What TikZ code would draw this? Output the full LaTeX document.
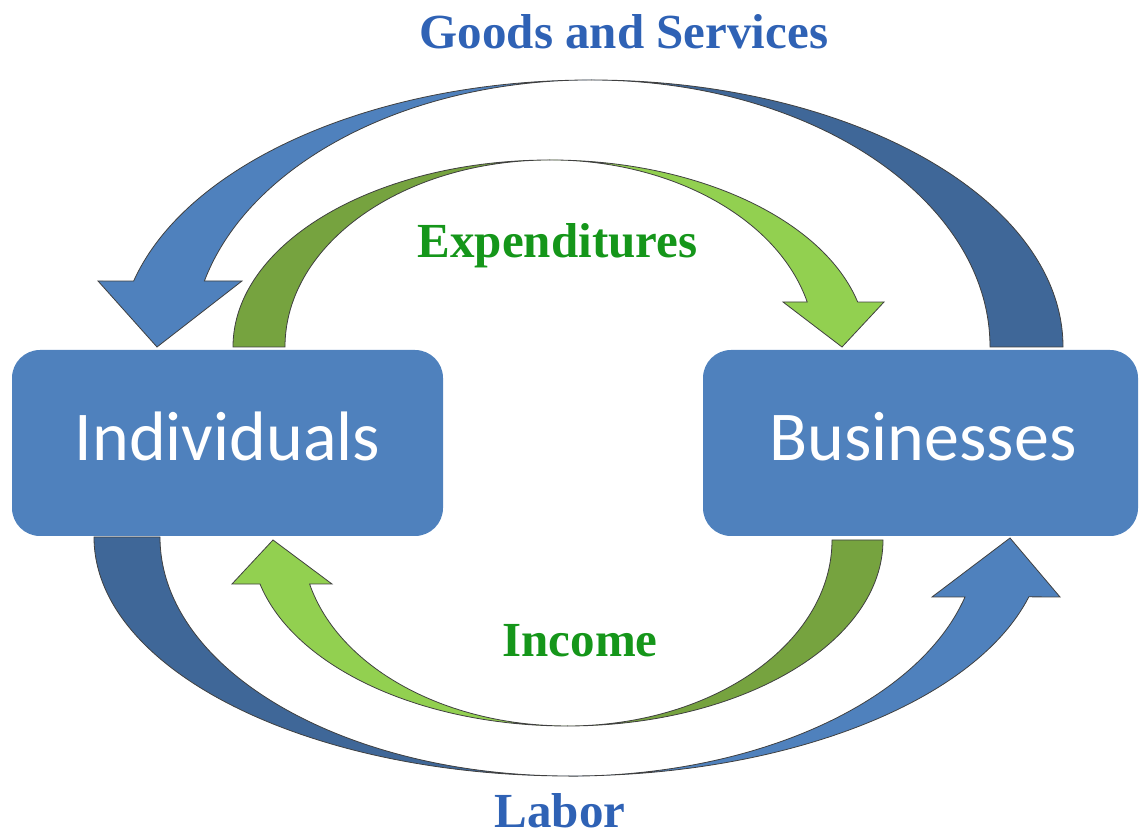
\documentclass[tikz,border=0pt]{standalone}
\usepackage{fontspec}
\setmainfont{Liberation Serif}
\newfontfamily\boxfont{Carlito}
\definecolor{boxblue}{HTML}{4F81BD}
\definecolor{darkblue}{HTML}{3F6798}
\definecolor{lightgreen}{HTML}{92D050}
\definecolor{darkgreen}{HTML}{76A33F}
\definecolor{labelblue}{HTML}{2F62B5}
\definecolor{labelgreen}{HTML}{15961A}
\begin{document}
\begin{tikzpicture}[x=1pt,y=1pt,
  ribbon/.style={draw=black!75, line width=0.8pt, line join=miter},
  flowbox/.style={fill=boxblue, rounded corners=28pt, inner sep=0pt, minimum height=186pt},
  boxtext/.style={text=white, anchor=base, inner sep=0pt, font=\boxfont\fontsize{70}{84}\selectfont},
  flowlabel/.style={anchor=base, inner sep=0pt, font=\bfseries\fontsize{49}{59}\selectfont}]
\useasboundingbox (0,0) rectangle (1140,840);

% boxes
\node[flowbox, minimum width=431pt] (ind) at (227.5,397) {};
\node[flowbox, minimum width=435pt] (bus) at (920.5,397) {};
\node[boxtext] (indt) at (227.5,379) {Individuals};
\node[boxtext] (bust) at (923,379) {Businesses};

% top blue ribbon (goods and services)
\draw[ribbon, fill=darkblue] (591,760) arc[start angle=90,end angle=0,x radius=472,y radius=267]
  -- (990,493) arc[start angle=0,end angle=90,x radius=399,y radius=267] -- cycle;
\draw[ribbon, fill=boxblue] (591,760) arc[start angle=90,end angle=165.7,x radius=472,y radius=267]
  -- (98,559) -- (157,493) -- (242,559) -- (204.4,559)
  arc[start angle=165.7,end angle=90,x radius=399,y radius=267] -- cycle;

% top green ribbon (expenditures)
\draw[ribbon, fill=darkgreen] (550,680) arc[start angle=90,end angle=180,x radius=317,y radius=187]
  -- (285,493) arc[start angle=180,end angle=90,x radius=265,y radius=187] -- cycle;
\draw[ribbon, fill=lightgreen] (550,680) arc[start angle=90,end angle=13.9,x radius=317,y radius=187]
  -- (884,538) -- (842,493) -- (783,538) -- (807.2,538)
  arc[start angle=13.9,end angle=90,x radius=265,y radius=187] -- cycle;

% bottom blue ribbon (labor)
\draw[ribbon, fill=darkblue] (569,64) arc[start angle=270,end angle=180,x radius=475,y radius=239]
  -- (160,303) arc[start angle=180,end angle=270,x radius=409,y radius=239] -- cycle;
\draw[ribbon, fill=boxblue] (569,64) arc[start angle=270,end angle=345.5,x radius=475,y radius=239]
  -- (1060,243) -- (1010,302) -- (932,243) -- (965,243)
  arc[start angle=345.5,end angle=270,x radius=409,y radius=239] -- cycle;

% bottom green ribbon (income)
\draw[ribbon, fill=darkgreen] (567,114) arc[start angle=270,end angle=360,x radius=316,y radius=186]
  -- (832,300) arc[start angle=360,end angle=270,x radius=265,y radius=186] -- cycle;
\draw[ribbon, fill=lightgreen] (567,114) arc[start angle=270,end angle=193.7,x radius=316,y radius=186]
  -- (232,256) -- (273,300) -- (332,256) -- (309.6,256)
  arc[start angle=193.7,end angle=270,x radius=265,y radius=186] -- cycle;

% labels
\node[flowlabel, text=labelblue] (gs) at (624,791) {Goods and Services};
\node[flowlabel, text=labelgreen] (ex) at (557.5,582) {Expenditures};
\node[flowlabel, text=labelgreen] (inc) at (580,183) {Income};
\node[flowlabel, text=labelblue] (lab) at (560,12) {Labor};
\end{tikzpicture}
\end{document}
